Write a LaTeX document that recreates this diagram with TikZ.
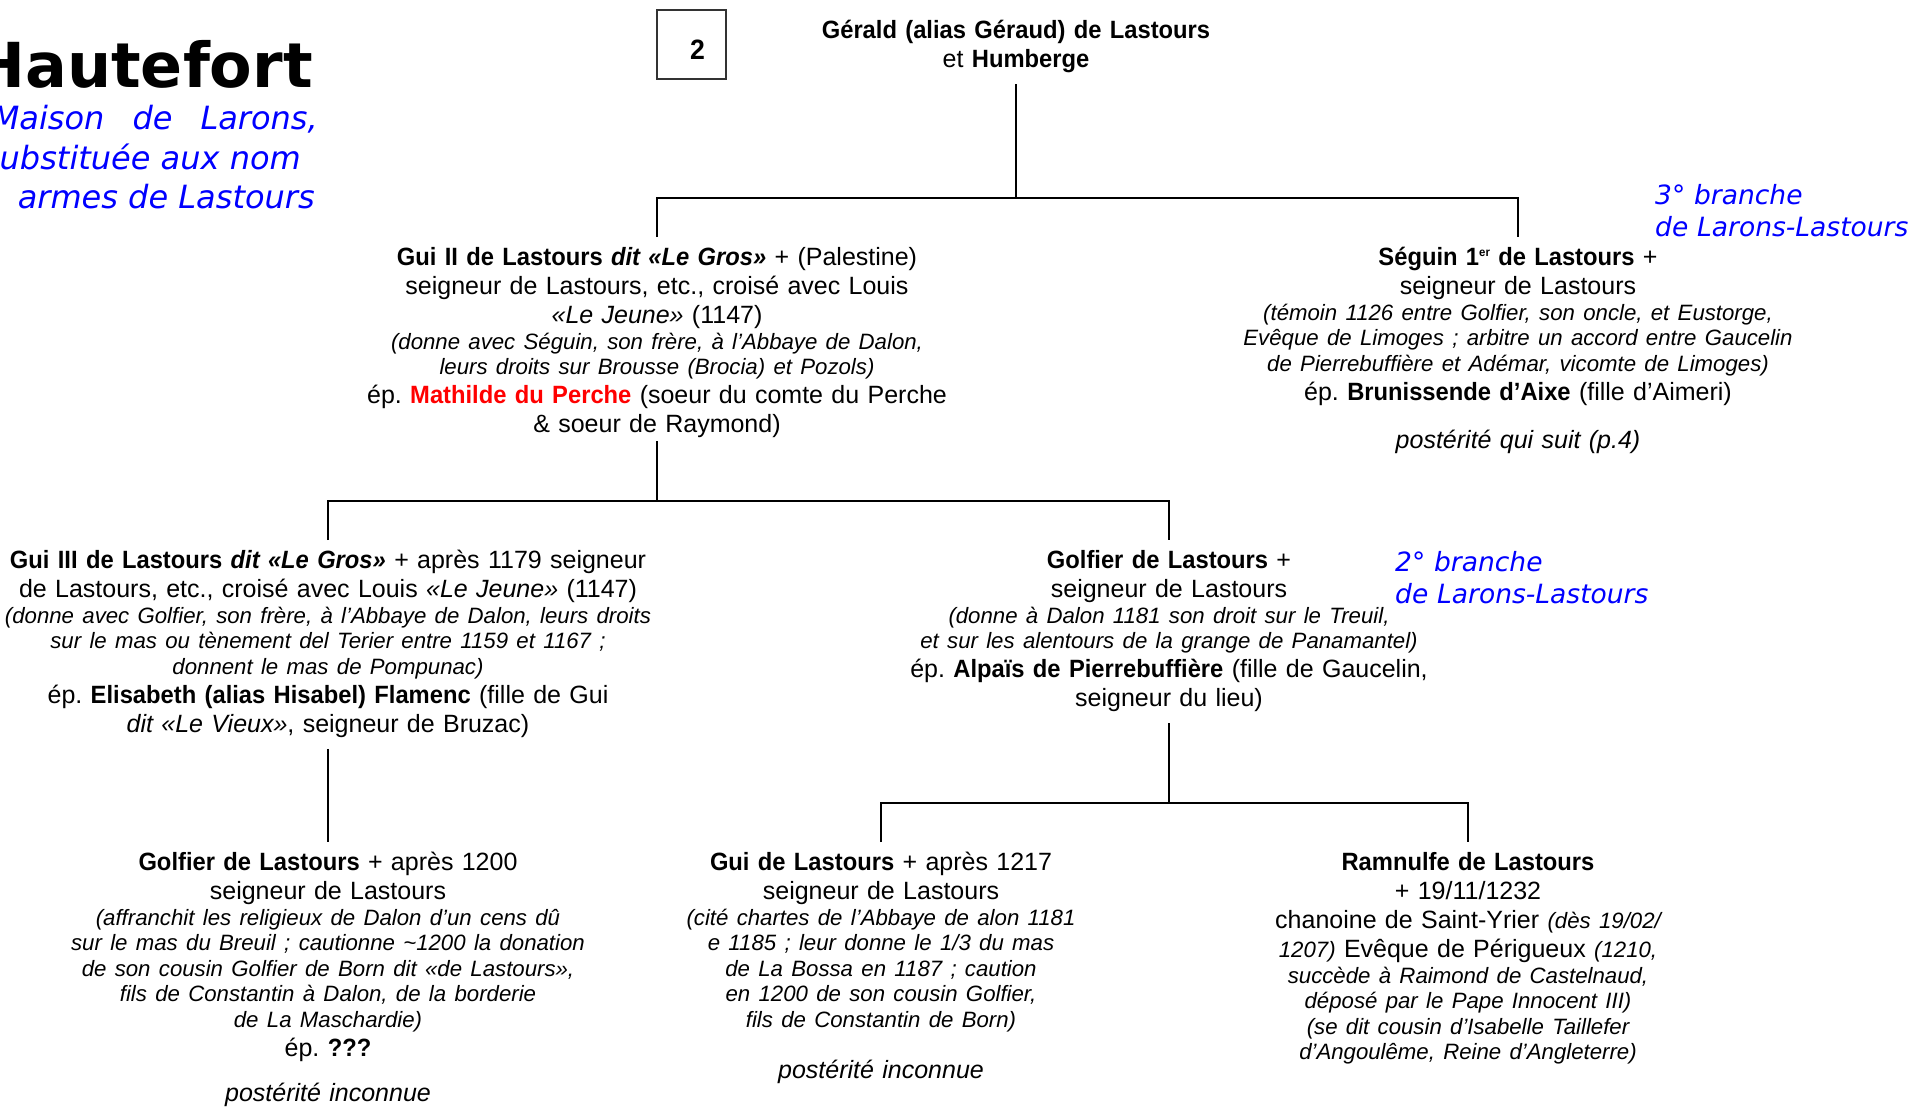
\documentclass[tikz,border=0pt]{standalone}
\usepackage{fontspec}
\setmainfont{Liberation Sans}[BoldFeatures={FakeStretch=0.95}, BoldItalicFeatures={FakeStretch=0.95}]
\newfontfamily\verdanalike{DejaVu Sans}
\usepackage{tikz}
\definecolor{branchblue}{RGB}{0,0,255}
\definecolor{spousered}{RGB}{255,0,0}
\frenchspacing
\newcommand{\mainsize}{\fontsize{25}{29}\selectfont}
\newcommand{\glosssize}{\fontsize{22.2}{25.5}\selectfont\itshape}
\newcommand{\gloss}[1]{\par{\glosssize #1\par}}
\newcommand{\inlinegloss}[1]{{\fontsize{22.2}{29}\selectfont\itshape #1}}
\newcommand{\supsmall}[1]{\raisebox{9pt}{\fontsize{12}{12}\selectfont #1}}
\tikzstyle{tree} = [line width=2.7pt]
\tikzstyle{person} = [anchor=north, align=center, text width=700pt, inner xsep=0pt, inner ysep=8pt, font=\mainsize, execute at begin node={\setlength{\parindent}{0pt}}]
\tikzstyle{branch} = [anchor=north west, align=left, text width=320pt, inner sep=0pt, text=branchblue, font=\verdanalike\itshape\fontsize{26.5}{32}\selectfont]
\tikzstyle{subtitle} = [anchor=base east, inner sep=0pt, text=branchblue, font=\verdanalike\itshape\fontsize{32}{38}\selectfont]
\tikzstyle{house} = [anchor=base east, inner sep=0pt, font=\verdanalike\bfseries\fontsize{62}{62}\selectfont]
\tikzstyle{page_box} = [draw=black!80, line width=1.5pt, minimum width=69pt, minimum height=69pt, inner sep=0pt, text height=30pt, text depth=0pt, font=\bfseries\fontsize{28}{28}\selectfont]

\begin{document}
\begin{tikzpicture}[x=1pt, y=-1pt]
    \useasboundingbox (0,0) rectangle (1917,1106);

    % title block, cut at the left edge
    \node[house] (house) at (313,87) {Hautefort};
    \node[subtitle] (sub_one) at (318,129) {Maison\hspace{28pt}de\hspace{28pt}Larons,};
    \node[subtitle] (sub_two) at (301,169) {substituée aux nom};
    \node[subtitle] (sub_three) at (315,208) {et\hspace{24pt}armes de Lastours};
    \node[page_box] (page_no) at (691.5,44.5) {\hspace*{12pt}2};

    \node[branch] (branch_three) at (1655,182) {\strut 3° branche\\de Larons-Lastours};
    \node[branch] (branch_two) at (1395,549) {\strut 2° branche\\de Larons-Lastours};

    % generation 1
    \node[person, font=\fontsize{25}{29}\selectfont] (gerald) at (1016,10) {\strut\textbf{Gérald (alias Géraud) de Lastours}\\ et \textbf{Humberge}\strut};

    % generation 2
    \node[person] (gui_ii) at (657,237) {\strut\textbf{Gui II de Lastours \textit{dit «Le Gros»}} + (Palestine)\\
        seigneur de Lastours, etc., croisé avec Louis\\
        \textit{«Le Jeune»} (1147)
        \gloss{(donne avec Séguin, son frère, à l’Abbaye de Dalon,\\ leurs droits sur Brousse (Brocia) et Pozols)}
        ép. \textbf{\textcolor{spousered}{Mathilde du Perche}} (soeur du comte du Perche\\
        \& soeur de Raymond)\strut};
    \node[person] (seguin) at (1518,237) {\strut\textbf{Séguin 1\supsmall{er} de Lastours} +\\
        seigneur de Lastours
        \gloss{(témoin 1126 entre Golfier, son oncle, et Eustorge,\\ Evêque de Limoges ; arbitre un accord entre Gaucelin\\ de Pierrebuffière et Adémar, vicomte de Limoges)}
        ép. \textbf{Brunissende d’Aixe} (fille d’Aimeri)\\[19pt]
        \textit{postérité qui suit (p.4)}};

    % generation 3
    \node[person] (gui_iii) at (328,540) {\strut\textbf{Gui III de Lastours \textit{dit «Le Gros»}} + après 1179 seigneur\\
        de Lastours, etc., croisé avec Louis \textit{«Le Jeune»} (1147)
        \gloss{(donne avec Golfier, son frère, à l’Abbaye de Dalon, leurs droits\\ sur le mas ou tènement del Terier entre 1159 et 1167 ;\\ donnent le mas de Pompunac)}
        ép. \textbf{Elisabeth (alias Hisabel) Flamenc} (fille de Gui\\
        \textit{dit «Le Vieux»}, seigneur de Bruzac)\strut};
    \node[person] (golfier) at (1169,540) {\strut\textbf{Golfier de Lastours} +\\
        seigneur de Lastours
        \gloss{(donne à Dalon 1181 son droit sur le Treuil,\\ et sur les alentours de la grange de Panamantel)}
        ép. \textbf{Alpaïs de Pierrebuffière} (fille de Gaucelin,\\
        seigneur du lieu)\strut};

    % generation 4
    \node[person] (golfier_ii) at (328,842) {\strut\textbf{Golfier de Lastours} + après 1200\\
        seigneur de Lastours
        \gloss{(affranchit les religieux de Dalon d’un cens dû\\ sur le mas du Breuil ; cautionne \textasciitilde1200 la donation\\ de son cousin Golfier de Born dit «de Lastours»,\\ fils de Constantin à Dalon, de la borderie\\ de La Maschardie)}
        ép. \textbf{???}\\[16pt]
        \textit{postérité inconnue}};
    \node[person] (gui) at (881,842) {\strut\textbf{Gui de Lastours} + après 1217\\
        seigneur de Lastours
        \gloss{(cité chartes de l’Abbaye de alon 1181\\ e 1185 ; leur donne le 1/3 du mas\\ de La Bossa en 1187 ; caution\\ en 1200 de son cousin Golfier,\\ fils de Constantin de Born)}
        \vspace{22pt}
        \textit{postérité inconnue}};
    \node[person] (ramnulfe) at (1468,842) {\strut\textbf{Ramnulfe de Lastours}\\
        + 19/11/1232\\
        chanoine de Saint-Yrier \inlinegloss{(dès 19/02/}\\
        \inlinegloss{1207)} Evêque de Périgueux \inlinegloss{(1210,}
        \gloss{succède à Raimond de Castelnaud,\\ déposé par le Pape Innocent III)\\ (se dit cousin d’Isabelle Taillefer\\ d’Angoulême, Reine d’Angleterre)}};

    % forks
    \coordinate (fork_one) at (1016,198);
    \coordinate (fork_two) at (657,501);
    \coordinate (fork_three) at (1169,803);

    \draw [tree] (gerald.south) -- (fork_one);
    \draw [tree] (gui_ii.north) |- (fork_one) -| (seguin.north);
    \draw [tree] ([yshift=8pt]gui_ii.south) -- (fork_two);
    \draw [tree] (gui_iii.north) |- (fork_two) -| (golfier.north);
    \draw [tree] (gui_iii.south) -- (golfier_ii.north);
    \draw [tree] (golfier.south) -- (fork_three);
    \draw [tree] (gui.north) |- (fork_three) -| (ramnulfe.north);

\end{tikzpicture}
\end{document}
